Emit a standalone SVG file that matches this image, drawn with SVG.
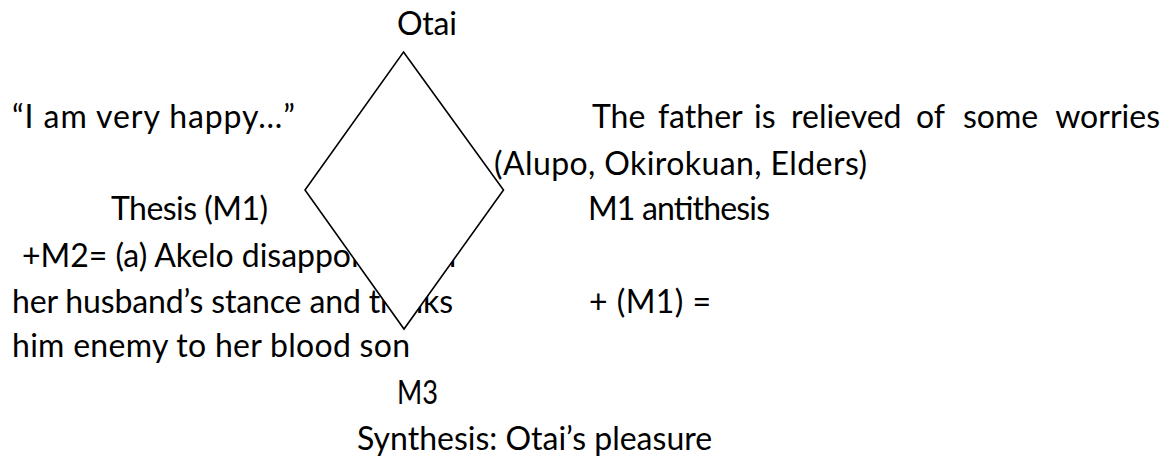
<svg xmlns="http://www.w3.org/2000/svg" width="1174" height="457" viewBox="0 0 1174 457">
<style>
text{font-family:Lato,"Open Sans","DejaVu Sans",sans-serif;font-size:32px;fill:#000}
.shape{fill:#fff;stroke:#000;stroke-width:1.6}
</style>
<rect width="1174" height="457" fill="#fff"/>
<g id="left-texts">
<text x="12" y="128" textLength="283" lengthAdjust="spacing">“I am very happy…”</text>
<text x="111" y="220" textLength="157" lengthAdjust="spacing">Thesis (M1)</text>
<text x="22" y="267" textLength="434" lengthAdjust="spacing">+M2= (a) Akelo disappointed in</text>
<text x="12" y="313" textLength="441" lengthAdjust="spacing">her husband’s stance and thinks</text>
<text x="12" y="357" textLength="398" lengthAdjust="spacing">him enemy to her blood son</text>
</g>
<g id="diamond">
<polygon class="shape" points="403.5,52 503.5,190 404,329 305,190"/>
</g>
<g id="otai"><text x="397" y="35" textLength="60" lengthAdjust="spacing">Otai</text></g>
<g id="right-texts">
<text y="128"><tspan x="592">The</tspan><tspan x="658">father</tspan><tspan x="754">is</tspan><tspan x="791">relieved</tspan><tspan x="916">of</tspan><tspan x="963">some</tspan></text>
<text x="1160" y="128" text-anchor="end">worries</text>
<text x="494" y="175" textLength="373" lengthAdjust="spacing">(Alupo, Okirokuan, Elders)</text>
<text x="588" y="220" textLength="182" lengthAdjust="spacing">M1 antithesis</text>
<text x="589" y="313" textLength="122" lengthAdjust="spacing">+ (M1) =</text>
</g>
<g id="synthesis">
<text x="397" y="404" textLength="41" lengthAdjust="spacingAndGlyphs">M3</text>
<text x="357" y="450">Synthesis: Otai’s pleasure</text>
</g>
</svg>
